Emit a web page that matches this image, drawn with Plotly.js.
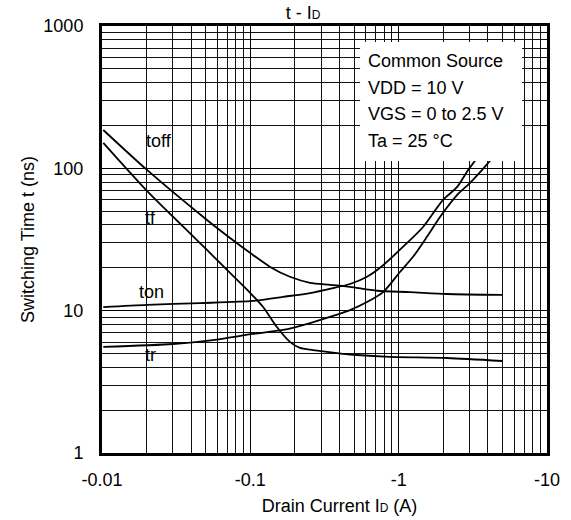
<!DOCTYPE html>
<html>
<head>
<meta charset="utf-8">
<script src="https://cdn.plot.ly/plotly-3.0.1.min.js"></script>
<style>
  html, body { margin: 0; padding: 0; background: #fff; }
  #chart { width: 571px; height: 520px; }
</style>
</head>
<body>
<div id="chart"></div>
<script>
// Drain current magnitudes |ID| in A (axis labels show negative values)
const toffI = [0.0102, 0.0201, 0.051, 0.073, 0.1, 0.136, 0.185, 0.253, 0.345, 0.47, 0.715, 1.19, 2.12, 5.0];
const toffT = [186, 97.5, 43.4, 32.4, 25.4, 20.3, 17.3, 15.7, 15.2, 14.7, 13.8, 13.5, 13.1, 12.9];

const tfI = [0.0102, 0.0204, 0.041, 0.051, 0.073, 0.1, 0.122, 0.151, 0.185, 0.216, 0.265, 0.384, 0.524, 0.874, 2.12, 5.0];
const tfT = [151, 68.3, 33.4, 26.7, 18.4, 13.3, 10.6, 7.68, 6.03, 5.47, 5.29, 5.04, 4.88, 4.73, 4.65, 4.43];

const tonI = [0.0102, 0.0201, 0.0458, 0.104, 0.166, 0.253, 0.361, 0.47, 0.612, 0.749, 1.14, 1.46, 1.99, 2.48, 2.94, 3.27, 3.5];
const tonT = [10.6, 11.0, 11.3, 11.7, 12.5, 13.3, 14.4, 15.4, 17.3, 20.0, 29.9, 38.7, 60, 74, 97.5, 113, 125];

const trI = [0.0102, 0.0301, 0.056, 0.104, 0.166, 0.253, 0.361, 0.47, 0.612, 0.785, 1.02, 1.25, 1.55, 1.90, 2.48, 3.03, 3.54, 4.13, 4.5];
const trT = [5.56, 5.83, 6.22, 6.86, 7.32, 8.19, 9.18, 10.1, 11.5, 13.5, 18.7, 23.9, 33, 45.5, 65, 79, 94, 113, 125];

const xTickVals = [0.01, 0.1, 1, 10];
const xTickText = ['-0.01', '-0.1', '-1', '-10'];
const yTickVals = [1, 10, 100, 1000];
const yTickText = ['1', '10', '100', '1000'];

const seriesNames = ['toff', 'tf', 'ton', 'tr'];
const conditionLines = ['Common Source', 'VDD = 10 V', 'VGS = 0 to 2.5 V', 'Ta = 25 \u00B0C'];

function minors(lo, hi) {
  const out = [];
  for (let d = lo; d < hi; d++) {
    for (let m = 2; m <= 9; m++) out.push(m * Math.pow(10, d));
  }
  return out;
}

const FONT = 'Liberation Sans, Arial, Helvetica, sans-serif';
const lineStyle = {color: '#000', width: 1.8, shape: 'spline', smoothing: 0.7};

const traces = [
  {x: toffI, y: toffT, name: seriesNames[0]},
  {x: tfI, y: tfT, name: seriesNames[1]},
  {x: tonI, y: tonT, name: seriesNames[2]},
  {x: trI, y: trT, name: seriesNames[3]}
].map(t => Object.assign(t, {type: 'scatter', mode: 'lines', line: lineStyle, hoverinfo: 'skip'}));

const labelPos = [[0.128, 0.731], [0.110, 0.550], [0.112, 0.377], [0.110, 0.230]];
const annotations = seriesNames.map((n, i) => ({
  xref: 'paper', yref: 'paper', x: labelPos[i][0], y: labelPos[i][1],
  text: n, showarrow: false, xanchor: 'center', yanchor: 'middle',
  font: {family: FONT, size: 18, color: '#000'}
}));
const condY = [0.918, 0.855, 0.794, 0.731];
conditionLines.forEach((txt, i) => annotations.push({
  xref: 'paper', yref: 'paper', x: 0.593, y: condY[i],
  text: txt, showarrow: false, xanchor: 'left', yanchor: 'middle',
  font: {family: FONT, size: 18, color: '#000'}
}));

const layout = {
  width: 571, height: 520,
  margin: {l: 102, r: 24, t: 26, b: 67},
  paper_bgcolor: '#fff', plot_bgcolor: '#fff',
  showlegend: false,
  font: {family: FONT, size: 18, color: '#000'},
  title: {
    text: 't - I<span style="font-size:12px">D</span>',
    font: {family: FONT, size: 18, color: '#000'},
    xref: 'paper', x: 0.452, xanchor: 'center',
    yref: 'container', y: 0.975, yanchor: 'middle'
  },
  xaxis: {
    type: 'log', range: [-2, 1], fixedrange: true,
    tickmode: 'array', tickvals: xTickVals, ticktext: xTickText,
    ticks: '', ticklabelstandoff: 8,
    showgrid: true, gridcolor: '#000', gridwidth: 1,
    minor: {tickmode: 'array', tickvals: minors(-2, 1), showgrid: true, gridcolor: '#111', gridwidth: 1, ticks: ''},
    showline: true, linecolor: '#000', linewidth: 3, mirror: true,
    zeroline: false,
    tickfont: {family: FONT, size: 18, color: '#000'},
    title: {
      text: '&nbsp;&nbsp;&nbsp;&nbsp;&nbsp;&nbsp;Drain Current I<span style="font-size:12px">D</span> (A)',
      font: {family: FONT, size: 18, color: '#000'}, standoff: 11
    }
  },
  yaxis: {
    type: 'log', range: [0, 3], fixedrange: true,
    tickmode: 'array', tickvals: yTickVals, ticktext: yTickText,
    ticks: '', ticklabelstandoff: 12,
    showgrid: true, gridcolor: '#000', gridwidth: 1,
    minor: {tickmode: 'array', tickvals: minors(0, 3), showgrid: true, gridcolor: '#111', gridwidth: 1, ticks: ''},
    showline: true, linecolor: '#000', linewidth: 3, mirror: true,
    zeroline: false,
    tickfont: {family: FONT, size: 18, color: '#000'},
    title: {
      text: 'Switching Time t (ns)',
      font: {family: FONT, size: 18, color: '#000'}, standoff: 5
    }
  },
  shapes: [{
    type: 'rect', xref: 'paper', yref: 'paper', layer: 'above',
    x0: 0.580, x1: 0.944, y0: 0.684, y1: 0.9625,
    fillcolor: '#fff', line: {width: 0}
  }],
  annotations: annotations
};

Plotly.newPlot('chart', traces, layout, {displayModeBar: false, staticPlot: true});
</script>
</body>
</html>
